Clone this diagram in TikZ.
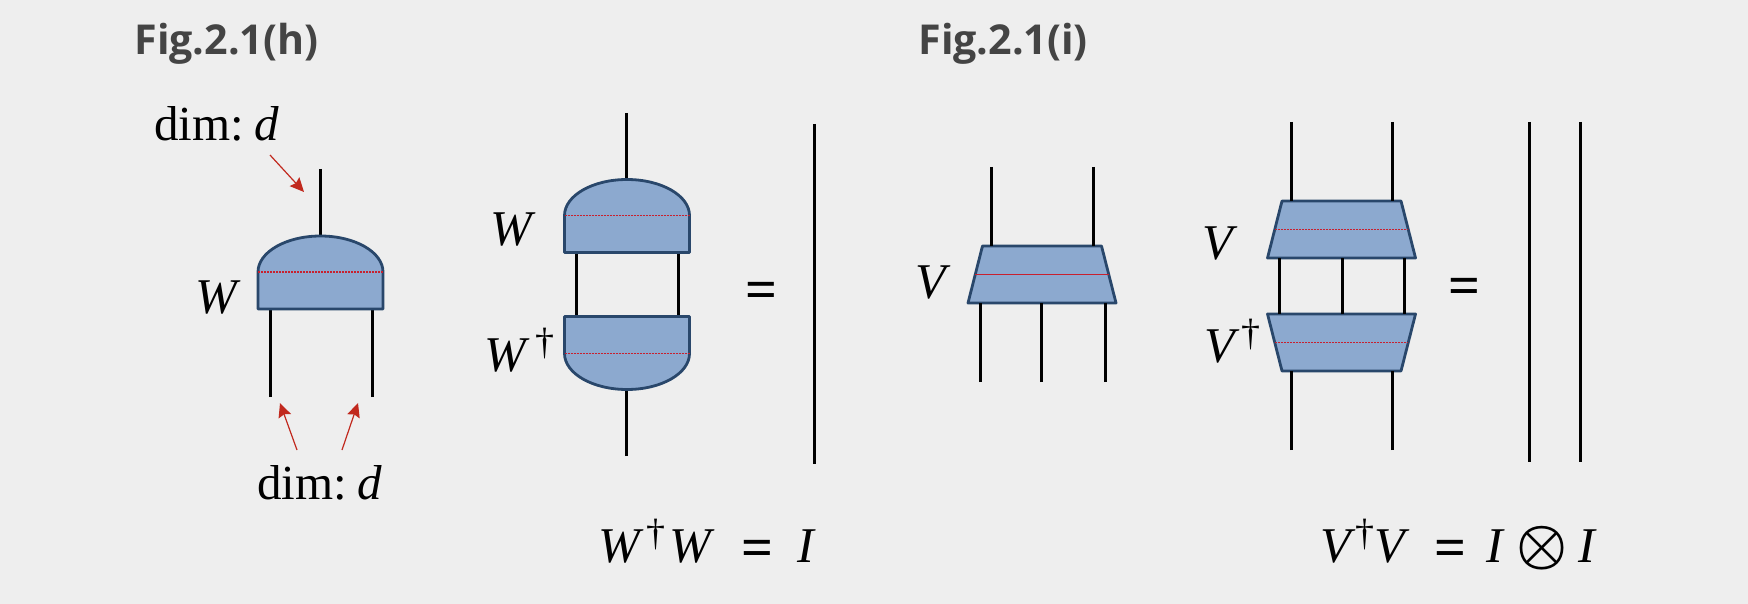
\documentclass[tikz,border=0pt]{standalone}
\usepackage{fontspec}
\setmainfont{Liberation Serif}
\newfontfamily\figfont{Open Sans}
\usepackage{tikz}
\usetikzlibrary{arrows.meta,shapes.geometric}
\definecolor{paper}{HTML}{EEEEEE}
\definecolor{bodyblue}{HTML}{8CA9CF}
\definecolor{edgeblue}{HTML}{29476B}
\definecolor{midred}{HTML}{C8202E}
\definecolor{tipred}{HTML}{C1291E}
\definecolor{figgray}{HTML}{444444}
\newcommand{\dg}{\raisebox{8.5pt}{\fontsize{19}{19}\selectfont\dag}}
\newcommand{\eqs}{\raisebox{-2pt}{\fontsize{28}{30}\selectfont\bfseries =}}
\tikzstyle{title} = [anchor=base west, inner sep=0pt, text=figgray, font=\figfont\bfseries\fontsize{20.6}{24}\selectfont]
\tikzstyle{lab} = [anchor=base west, inner sep=0pt, font=\fontsize{25}{30}\selectfont]
\tikzstyle{dimlab} = [anchor=base west, inner sep=0pt, font=\fontsize{24.5}{28}\selectfont]
\tikzstyle{base} = [rectangle, inner sep=0pt, outer sep=0pt, minimum width=62.5pt, minimum height=18.5pt]
\tikzstyle{body} = [draw=edgeblue, fill=bodyblue, line width=1.4pt, line join=round]
\tikzstyle{trap} = [trapezium, trapezium stretches=true, trapezium left angle=83.05, trapezium right angle=83.05, inner sep=1pt, outer sep=0pt, minimum width=74pt, minimum height=28.5pt, body]
\tikzstyle{trapd} = [trap, trapezium left angle=96.95, trapezium right angle=96.95]
\tikzstyle{wire} = [line width=1.5pt, black]
\tikzstyle{mid} = [line width=0.6pt, midred, dash pattern=on 1.2pt off 0.3pt]
\tikzstyle{arrow} = [line width=0.6pt, tipred, -{Stealth[length=7pt,width=6.5pt,inset=1pt]}]
\begin{document}
\begin{tikzpicture}[x=0.5pt,y=-0.5pt]
\fill [paper] (0,0) rectangle (1748,604);
\useasboundingbox (0,0) rectangle (1748,604);

\node (figh) [title] at (134,55) {Fig.2.1(h)};
\node (figi) [title] at (918,55) {Fig.2.1(i)};

% single W
\node (dimt) [dimlab] at (154,141) {dim:\hspace{5pt}\textit{d}};
\node (dimb) [dimlab] at (257,499) {dim:\hspace{5pt}\textit{d}};
\node (wlab) [lab] at (195,313) {\textit{W}};
\node (w) [base] at (320.5,290.5) {};
\coordinate (wt) at (320,169);
\coordinate (wl) at (270,397);
\coordinate (wr) at (372,397);
\draw [wire] (wt) -- (wt |- w.north);
\draw [wire] (wl) -- (wl |- w.south);
\draw [wire] (wr) -- (wr |- w.south);
\draw [body] (w.south west) -- (w.north west) arc [start angle=180, end angle=0, x radius=31.25pt, y radius=18pt] -- (w.south east) -- cycle;
\draw [mid] (w.north west) -- (w.north east);

\coordinate (at) at (270,155);
\coordinate (ah) at (304,192);
\coordinate (bt) at (297,450);
\coordinate (bh) at (280,403);
\coordinate (ct) at (342,450);
\coordinate (ch) at (358,403);
\draw [arrow] (at) -- (ah);
\draw [arrow] (bt) -- (bh);
\draw [arrow] (ct) -- (ch);

% W dagger W
\node (wwlab) [lab] at (490,245) {\textit{W}};
\node (wdlab) [lab] at (484,371) {\textit{W}\hspace{3pt}\dg};
\node (wu) [base] at (627,234) {};
\node (wd) [base] at (627,335) {};
\coordinate (wut) at (626,113);
\coordinate (wdb) at (626,456);
\coordinate (wml) at (576,285);
\coordinate (wmr) at (678,285);
\coordinate (wline) at (814,124);
\coordinate (wlineb) at (814,464);
\draw [wire] (wut) -- (wut |- wu.north);
\draw [wire] (wdb) -- (wdb |- wd.south);
\draw [wire] (wml |- wu.south) -- (wml |- wd.north);
\draw [wire] (wmr |- wu.south) -- (wmr |- wd.north);
\draw [wire] (wline) -- (wlineb);
\draw [body] (wu.south west) -- (wu.north west) arc [start angle=180, end angle=0, x radius=31.25pt, y radius=18pt] -- (wu.south east) -- cycle;
\draw [body] (wd.north west) -- (wd.south west) arc [start angle=180, end angle=360, x radius=31.25pt, y radius=18pt] -- (wd.north east) -- cycle;
\draw [mid] (wu.north west) -- (wu.north east);
\draw [mid] (wd.south west) -- (wd.south east);
\node (weq) [lab] at (745,304) {\eqs};
\node (weqn) [lab] at (598,562) {\textit{W}\hspace{1.5pt}\dg\hspace{2pt}\textit{W}\hspace{13pt}\eqs\hspace{12pt}\textit{I}};

% single V
\node (vlab) [lab] at (915,298) {\textit{V}};
\node (v) [trap] at (1042,274.5) {};
\coordinate (vta) at (991,167);
\coordinate (vtb) at (1093,167);
\coordinate (vba) at (980,382);
\coordinate (vbb) at (1041,382);
\coordinate (vbc) at (1105,382);
\draw [wire] (vta) -- (vta |- v.north);
\draw [wire] (vtb) -- (vtb |- v.north);
\draw [wire] (vba) -- (vba |- v.south);
\draw [wire] (vbb) -- (vbb |- v.south);
\draw [wire] (vbc) -- (vbc |- v.south);
\draw [mid] (v.west) -- (v.east);

% V dagger V
\node (vvlab) [lab] at (1202,259) {\textit{V}};
\node (vdlab) [lab] at (1204,362) {\textit{V}\hspace{1pt}\dg};
\node (vu) [trap] at (1341.5,229.5) {};
\node (vd) [trapd] at (1341.5,342.5) {};
\coordinate (vut) at (1291,122);
\coordinate (vuu) at (1392,122);
\coordinate (vdt) at (1291,450);
\coordinate (vdu) at (1392,450);
\coordinate (vma) at (1279,285);
\coordinate (vmb) at (1342,285);
\coordinate (vmc) at (1404,285);
\coordinate (vla) at (1529,122);
\coordinate (vlb) at (1580,122);
\coordinate (vlc) at (1529,462);
\coordinate (vld) at (1580,462);
\draw [wire] (vut) -- (vut |- vu.north);
\draw [wire] (vuu) -- (vuu |- vu.north);
\draw [wire] (vdt) -- (vdt |- vd.south);
\draw [wire] (vdu) -- (vdu |- vd.south);
\draw [wire] (vma |- vu.south) -- (vma |- vd.north);
\draw [wire] (vmb |- vu.south) -- (vmb |- vd.north);
\draw [wire] (vmc |- vu.south) -- (vmc |- vd.north);
\draw [wire] (vla) -- (vlc);
\draw [wire] (vlb) -- (vld);
\draw [mid] (vu.west) -- (vu.east);
\draw [mid] (vd.west) -- (vd.east);
\node (veq) [lab] at (1448,300) {\eqs};
\node (veqn) [lab] at (1320,562) {\textit{V}\dg\textit{V}\hspace{12pt}\eqs\hspace{10pt}\textit{I}\hspace{6pt}\scalebox{1.15}{\boldmath$\otimes$}\hspace{5.5pt}\textit{I}};
\end{tikzpicture}
\end{document}
